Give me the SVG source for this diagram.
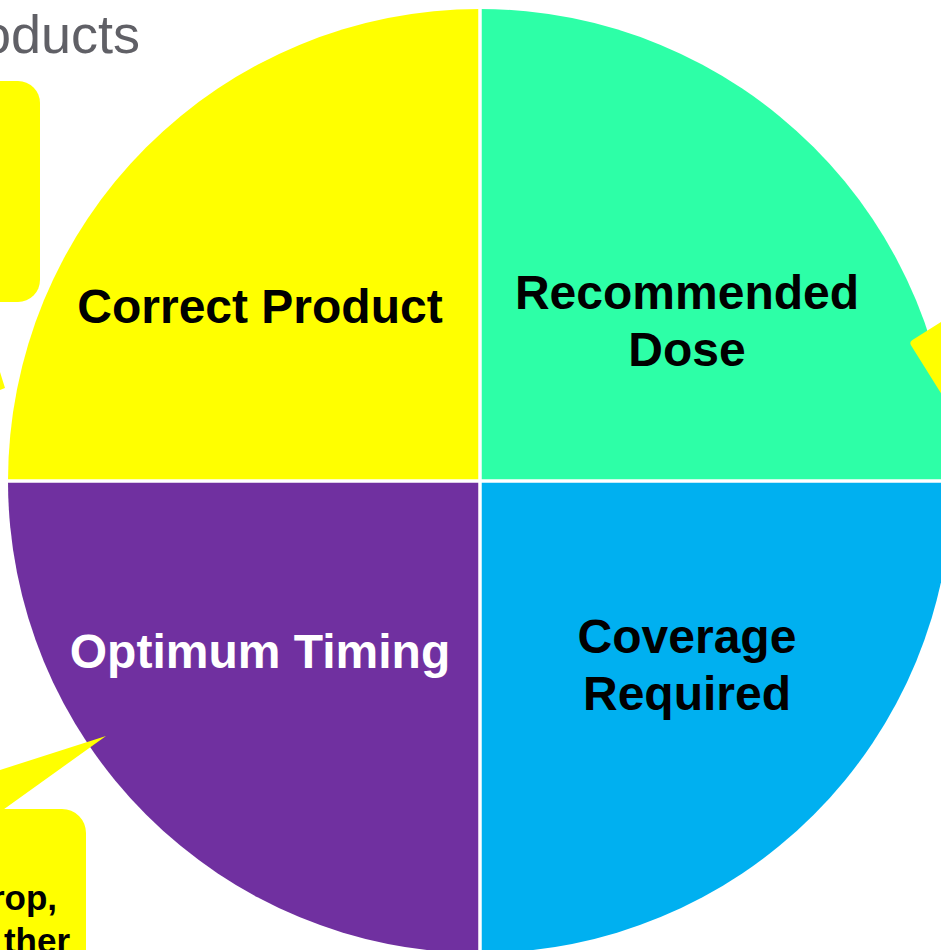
<svg xmlns="http://www.w3.org/2000/svg" width="941" height="950" viewBox="0 0 941 950">
  <style>
    .label { font-family: "Liberation Sans", Arial, Helvetica, sans-serif; font-weight: bold; font-size: 48px; text-anchor: middle; }
    .dark { fill: #000000; }
    .light { fill: #FFFFFF; }
    .note { fill: #FFFF00; }
    .noteText { font-family: "Liberation Sans", Arial, Helvetica, sans-serif; font-weight: bold; font-size: 35px; fill: #000000; text-anchor: end; }
    .title { font-family: "Liberation Sans", Arial, Helvetica, sans-serif; font-size: 54px; fill: #606066; text-anchor: end; }
    .divider { stroke: #FFFFFF; stroke-width: 3.5; fill: none; }
  </style>

  <rect width="941" height="950" fill="#FFFFFF"/>

  <!-- heading (partly outside the frame) -->
  <text class="title" x="140" y="53">oducts</text>

  <!-- four quadrants of the wheel, centre (480,481), radius 472 -->
  <g id="correct-product">
    <path d="M480 481 L8 481 A472 472 0 0 1 480 9 Z" fill="#FFFF00"/>
    <text class="label dark" x="260" y="323">Correct Product</text>
  </g>
  <g id="recommended-dose">
    <path d="M480 481 L480 9 A472 472 0 0 1 952 481 Z" fill="#2DFFA7"/>
    <text class="label dark" x="687" y="309">Recommended</text>
    <text class="label dark" x="687" y="366">Dose</text>
  </g>
  <g id="optimum-timing">
    <path d="M480 481 L480 953 A472 472 0 0 1 8 481 Z" fill="#7030A0"/>
    <text class="label light" x="260" y="668">Optimum Timing</text>
  </g>
  <g id="coverage-required">
    <path d="M480 481 L952 481 A472 472 0 0 1 480 953 Z" fill="#00B0F0"/>
    <text class="label dark" x="687" y="653">Coverage</text>
    <text class="label dark" x="687" y="710">Required</text>
  </g>

  <!-- white separators between the quadrants -->
  <g id="dividers">
    <line class="divider" x1="480" y1="0" x2="480" y2="950"/>
    <line class="divider" x1="0" y1="481" x2="941" y2="481"/>
  </g>

  <!-- yellow call-outs around the wheel -->
  <g id="callout-top-left">
    <rect class="note" x="-60" y="81" width="100" height="221" rx="22"/>
  </g>
  <g id="callout-left-tip">
    <polygon class="note" points="0,372 5,388 0,390"/>
  </g>
  <g id="callout-right">
    <rect class="note" x="0" y="0" width="320" height="220" rx="4" transform="translate(909 342) rotate(-32)"/>
  </g>
  <g id="callout-bottom-left">
    <polygon class="note" points="106,736 0,770 0,812"/>
    <rect class="note" x="-80" y="809" width="166" height="200" rx="24"/>
    <text class="noteText" x="57" y="910">rop,</text>
    <text class="noteText" x="70" y="953">ther</text>
  </g>
</svg>
